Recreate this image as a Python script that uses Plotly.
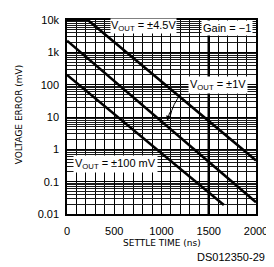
import plotly.graph_objects as go

# Data
settle_45 = [0, 220, 2000]          # ns
error_45 = [10000, 10000, 0.45]     # mV
settle_1 = [0, 2000]
error_1 = [2300, 0.023]
settle_100m = [0, 1660]
error_100m = [200, 0.019]

ytick_vals = [0.01, 0.1, 1, 10, 100, 1000, 10000]
ytick_text = ["0.01", "0.1", "1", "10", "100", "1k", "10k"]
xtick_vals = [0, 500, 1000, 1500, 2000]
xtick_text = ["0", "500", "1000", "1500", "2000"]

FONT = "Liberation Sans, Arial, sans-serif"

minor_y = [k * 10 ** e for e in range(-2, 4) for k in range(2, 10)]

fig = go.Figure()
for xs, ys in [(settle_45, error_45), (settle_1, error_1), (settle_100m, error_100m)]:
    fig.add_trace(go.Scatter(x=xs, y=ys, mode="lines",
                             line=dict(color="black", width=2.6),
                             showlegend=False, hoverinfo="skip"))

# the page body has an 8px margin, so the figure is sized/placed to compensate
fig.update_layout(
    width=266, height=259,
    margin=dict(l=59, r=13, t=6, b=53),
    paper_bgcolor="white", plot_bgcolor="white",
    font=dict(family=FONT, size=11, color="black"),
    showlegend=False,
)
fig.update_xaxes(
    range=[0, 2000], tickvals=xtick_vals, ticktext=xtick_text,
    showgrid=True, gridcolor="black", gridwidth=1,
    minor=dict(dtick=100, showgrid=True, gridcolor="black", gridwidth=1, ticks=""),
    showline=True, linecolor="black", linewidth=1.5, mirror=True,
    ticks="", ticklabelstandoff=6, zeroline=False,
    tickfont=dict(size=11, family=FONT),
)
fig.update_yaxes(
    type="log", range=[-2, 4], tickvals=ytick_vals, ticktext=ytick_text,
    showgrid=True, gridcolor="black", gridwidth=1,
    minor=dict(tickvals=minor_y, showgrid=True, gridcolor="#1a1a1a", gridwidth=1, ticks=""),
    showline=True, linecolor="black", linewidth=1.5, mirror=True,
    ticks="", ticklabelstandoff=4, zeroline=False,
    tickfont=dict(size=11, family=FONT),
)

# thick vertical line at 1500 ns
fig.add_shape(type="line", x0=1500, x1=1500, y0=0, y1=1, xref="x", yref="paper",
              line=dict(color="black", width=2.5))

ann_font = dict(family=FONT, size=11, color="black")
fig.add_annotation(x=0.405, y=0.97, xref="paper", yref="paper",
                   text="V<sub>OUT</sub> = ±4.5V", showarrow=False,
                   bgcolor="white", font=ann_font, xanchor="center", yanchor="middle",
                   borderpad=0)
fig.add_annotation(x=0.845, y=0.96, xref="paper", yref="paper",
                   text="Gain = −1", showarrow=False,
                   bgcolor="white", font=ann_font, xanchor="center", yanchor="middle",
                   borderpad=1)
fig.add_annotation(x=0.80, y=0.665, xref="paper", yref="paper",
                   text="V<sub>OUT</sub> = ±1V", showarrow=False,
                   bgcolor="white", font=ann_font, xanchor="center", yanchor="middle",
                   borderpad=1)
fig.add_annotation(x=0.255, y=0.26, xref="paper", yref="paper",
                   text="V<sub>OUT</sub> = ±100 mV", showarrow=False,
                   bgcolor="white", font=ann_font, xanchor="center", yanchor="middle",
                   borderpad=1)
# curved pointer from the ±1V label to its curve
fig.add_shape(type="path", xref="paper", yref="paper",
              path="M 0.605 0.62 Q 0.56 0.57 0.545 0.50",
              line=dict(color="black", width=1))
fig.add_annotation(x=0.53, y=0.48, xref="paper", yref="paper",
                   ax=3, ay=-10, showarrow=True, arrowhead=2, arrowsize=1,
                   arrowwidth=1, arrowcolor="black", text="")

# axis titles and figure id
title_font = dict(family="DejaVu Sans, sans-serif", size=9, color="black")
fig.add_annotation(x=-0.253, y=0.515, xref="paper", yref="paper",
                   text="VOLTAGE ERROR (mV)", textangle=-90, showarrow=False,
                   font=title_font, xanchor="center", yanchor="middle")
fig.add_annotation(x=0.5, y=-0.15, xref="paper", yref="paper",
                   text="SETTLE TIME (ns)", showarrow=False,
                   font=title_font, xanchor="center", yanchor="middle")
fig.add_annotation(x=1.057, y=-0.22, xref="paper", yref="paper",
                   text="DS012350-29", showarrow=False,
                   font=dict(family=FONT, size=11, color="black"),
                   xanchor="right", yanchor="middle")

fig.write_html("out.html")
